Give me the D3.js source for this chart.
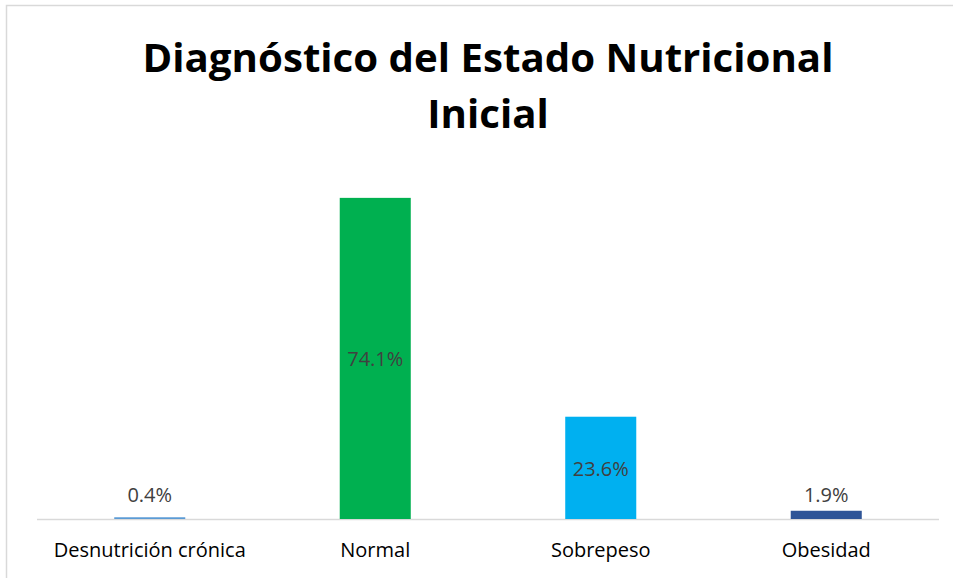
<!DOCTYPE html>
<html><head><meta charset="utf-8">
<script src="https://cdn.jsdelivr.net/npm/d3@7"></script>
<style>body{margin:0;background:#fff;}svg{display:block;}</style>
</head><body>
<script>
const categories = ["Desnutrición crónica", "Normal", "Sobrepeso", "Obesidad"];
const values = [0.4, 74.1, 23.6, 1.9];
const colors = ["#5B9BD5", "#00B050", "#00B0F0", "#2F5597"];
const titleLines = ["Diagnóstico del Estado Nutricional", "Inicial"];

const W = 953, H = 578;
const svg = d3.select("body").append("svg").attr("width", W).attr("height", H);
svg.append("rect").attr("width", W).attr("height", H).attr("fill", "#fff");
svg.append("rect").attr("x", 6.5).attr("y", 5.5).attr("width", W + 20).attr("height", H + 20)
  .attr("fill", "none").attr("stroke", "#d9d9d9").attr("stroke-width", 1.5);

const plot = {left: 37, right: 939, bottom: 519};
const x = d3.scaleBand().domain(categories).range([plot.left, plot.right]).paddingInner(0.685).paddingOuter(0.3425);
const y = d3.scaleLinear().domain([0, 80]).range([plot.bottom, plot.bottom - 346.7]);

const font = "'Open Sans', 'Noto Sans', sans-serif";

// title
const tl = svg.append("g").attr("font-family", font).attr("font-weight", "bold").attr("fill", "#000").attr("text-anchor", "middle");
const t1 = tl.append("text").attr("x", 488).attr("y", 72).attr("font-size", 36).text(titleLines[0]);
const w1 = t1.node().getComputedTextLength();
const fs = 36 * 691 / w1;
t1.attr("font-size", fs);
tl.append("text").attr("x", 488).attr("y", 128).attr("font-size", fs).text(titleLines[1]);

// baseline
svg.append("line").attr("x1", plot.left).attr("x2", plot.right).attr("y1", plot.bottom + 0.5).attr("y2", plot.bottom + 0.5)
  .attr("stroke", "#d9d9d9").attr("stroke-width", 1.5);

// bars
svg.selectAll("rect.bar").data(categories).join("rect").attr("class", "bar")
  .attr("x", d => x(d)).attr("width", x.bandwidth())
  .attr("y", (d, i) => y(values[i])).attr("height", (d, i) => y(0) - y(values[i]))
  .attr("fill", (d, i) => colors[i]);

// value labels
svg.selectAll("text.val").data(categories).join("text").attr("class", "val")
  .attr("x", d => x(d) + x.bandwidth() / 2)
  .attr("y", (d, i) => {
    const h = y(0) - y(values[i]);
    return h > 30 ? (y(values[i]) + y(0)) / 2 + 1 : y(0) - 24;
  })
  .attr("dy", "0.35em").attr("text-anchor", "middle")
  .attr("font-family", font).attr("font-size", 20).attr("fill", "#404040")
  .text((d, i) => values[i].toFixed(1) + "%");

// category labels
const xAxis = svg.append("g").attr("transform", `translate(0,${plot.bottom})`)
  .call(d3.axisBottom(x).tickSize(0).tickPadding(0));
xAxis.select(".domain").remove();
xAxis.selectAll("text").attr("y", 31).attr("dy", "0.35em")
  .attr("font-family", font).attr("font-size", 20).attr("fill", "#000");
</script>
</body></html>
